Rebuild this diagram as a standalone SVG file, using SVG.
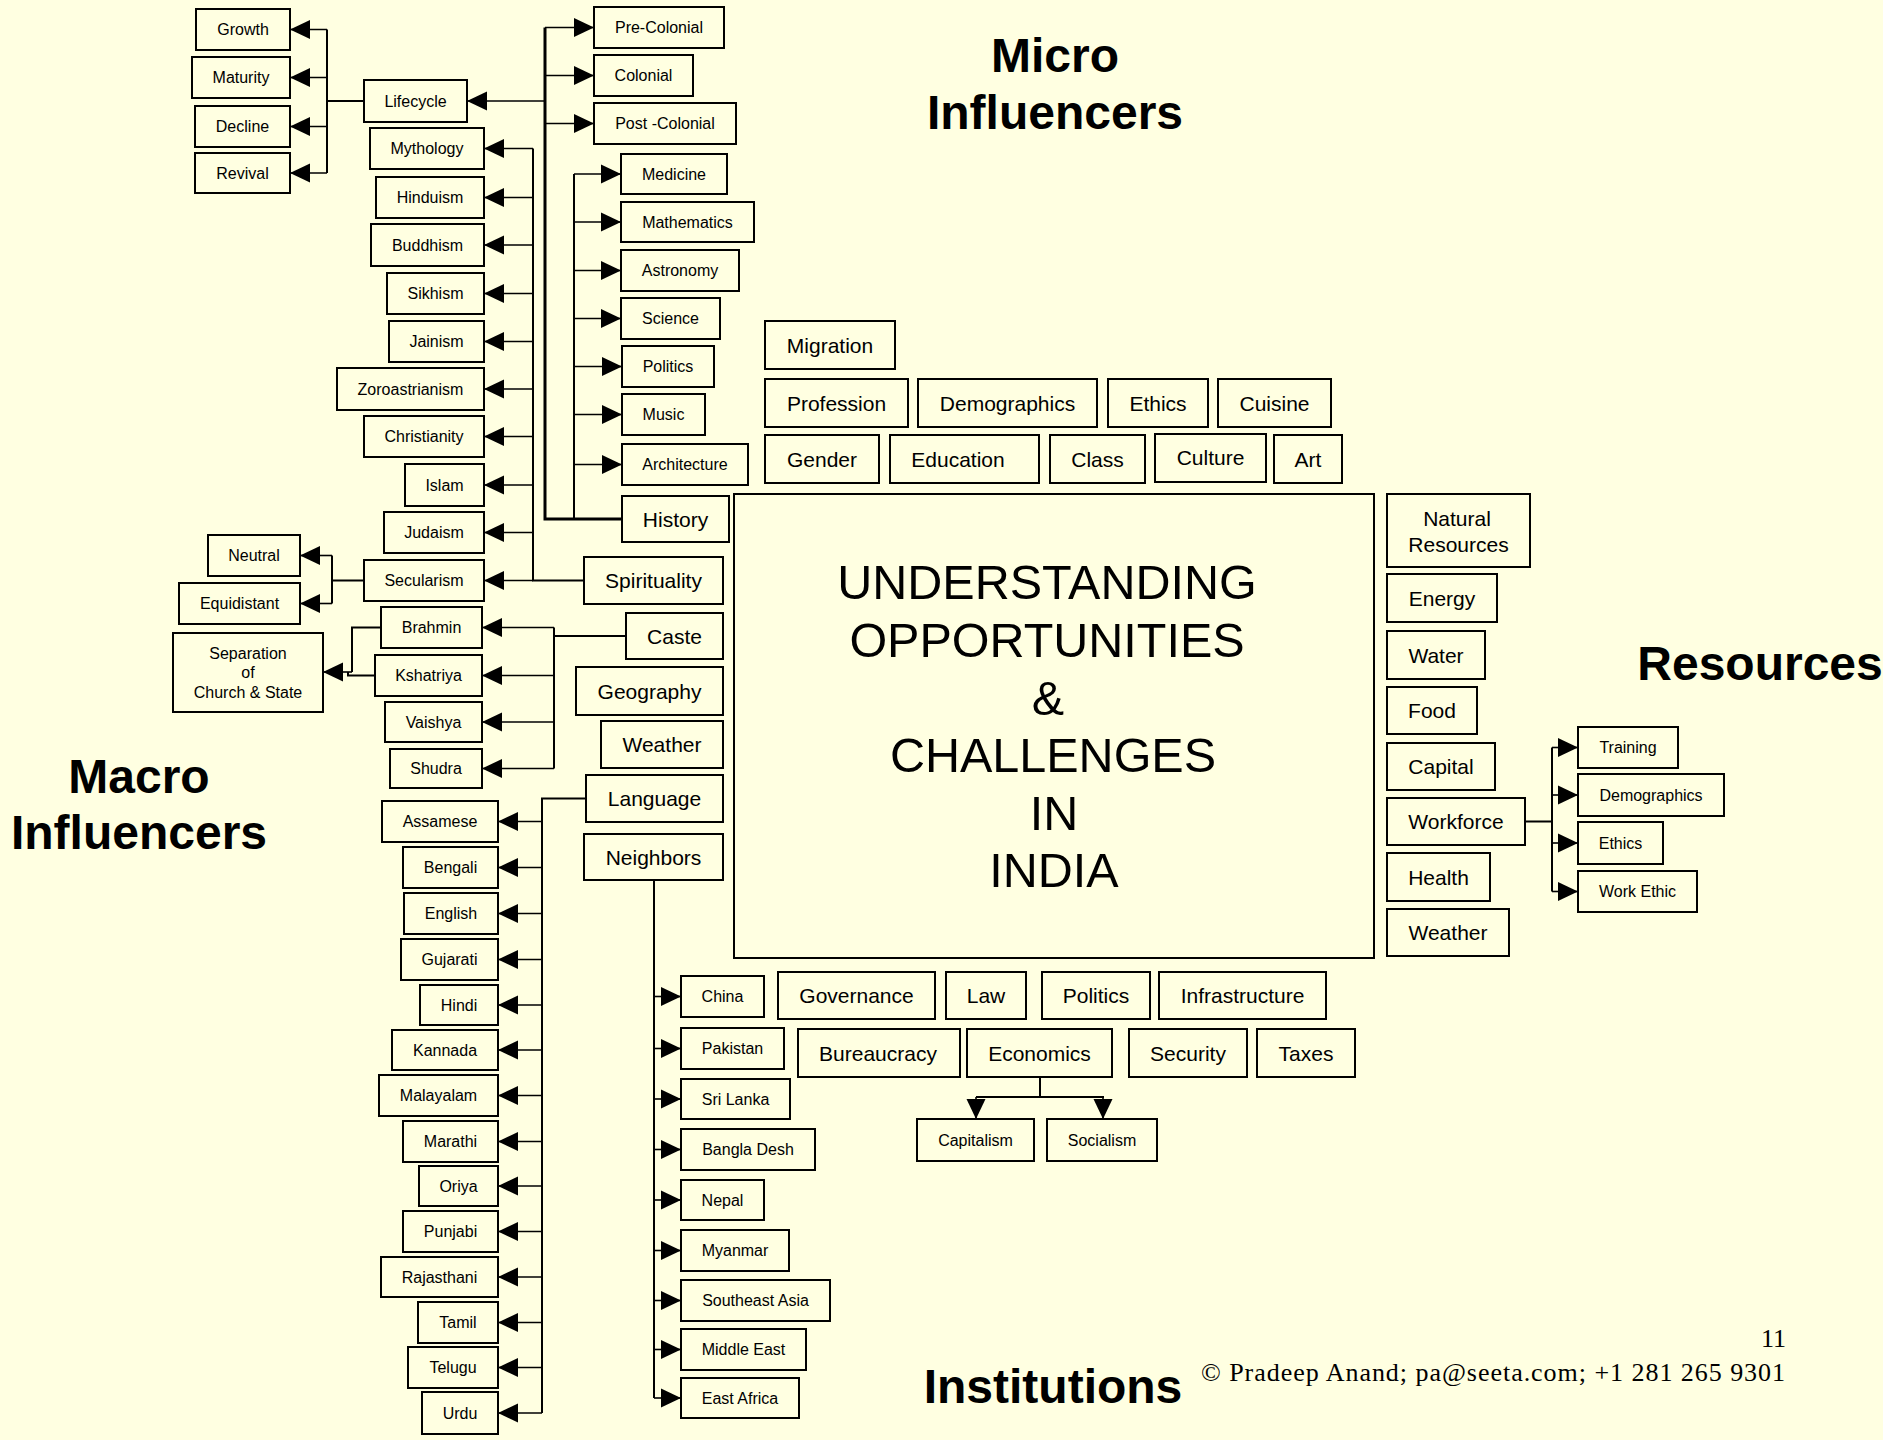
<svg xmlns="http://www.w3.org/2000/svg" width="1883" height="1440" viewBox="0 0 1883 1440">
<defs>
<style>
.b{fill:none;stroke:#000;stroke-width:2}
.s{font-family:"Liberation Sans",Arial,sans-serif;font-size:16px;text-anchor:middle;dominant-baseline:central;fill:#000}
.l{font-family:"Liberation Sans",Arial,sans-serif;font-size:21px;text-anchor:middle;dominant-baseline:central;fill:#000}
.t{font-family:"Liberation Sans",Arial,sans-serif;font-size:48px;font-weight:bold;text-anchor:middle;fill:#000}
.m{font-family:"Liberation Sans",Arial,sans-serif;font-size:48.5px;text-anchor:middle;fill:#000}
.f{font-family:"Liberation Serif","Times New Roman",serif;font-size:26px;fill:#000}
.c{fill:none;stroke:#000;stroke-width:2}
.a{fill:none;stroke:#000;stroke-width:1.6;marker-end:url(#ah)}
.hb{fill:none;stroke:#000;stroke-width:3}
</style>
<marker id="ah" markerWidth="20" markerHeight="20" refX="20" refY="10" orient="auto" markerUnits="userSpaceOnUse">
<path d="M0,0.5 L20,10 L0,19.5 Z" fill="#000"/>
</marker>
</defs>
<rect x="0" y="0" width="1883" height="1440" fill="#FFFFE1"/>

<g id="connectors">
<!-- Lifecycle -->
<path class="c" d="M364,101 H327 M327,29.5 V173"/>
<path class="a" d="M327,29.5 H290"/>
<path class="a" d="M327,77.5 H290"/>
<path class="a" d="M327,126.5 H290"/>
<path class="a" d="M327,173 H290"/>
<!-- History -->
<path class="hb" d="M545,27.5 V519 H622"/>
<path class="a" d="M545,27.5 H594"/>
<path class="a" d="M545,75.5 H594"/>
<path class="a" d="M545,123.5 H594"/>
<path class="a" d="M545,101 H467"/>
<path class="c" d="M574,174 V519"/>
<path class="a" d="M574,174 H621"/>
<path class="a" d="M574,222 H621"/>
<path class="a" d="M574,270.5 H621"/>
<path class="a" d="M574,318.5 H621"/>
<path class="a" d="M574,366.5 H622"/>
<path class="a" d="M574,414.5 H622"/>
<path class="a" d="M574,464.5 H622"/>
<!-- Spirituality -->
<path class="c" d="M533,148.5 V580.5 H584"/>
<path class="a" d="M533,148.5 H484"/>
<path class="a" d="M533,197.5 H484"/>
<path class="a" d="M533,245 H484"/>
<path class="a" d="M533,293.5 H484"/>
<path class="a" d="M533,341.5 H484"/>
<path class="a" d="M533,389 H484"/>
<path class="a" d="M533,436.5 H484"/>
<path class="a" d="M533,485 H484"/>
<path class="a" d="M533,532.5 H484"/>
<path class="a" d="M533,580.5 H484"/>
<!-- Secularism -->
<path class="c" d="M364,580.5 H332 M332,555.5 V603.5"/>
<path class="a" d="M332,555.5 H300"/>
<path class="a" d="M332,603.5 H300"/>
<!-- Separation -->
<path class="c" d="M381,627.5 H352 V672 M375,675.5 H348 V672"/>
<path class="a" d="M352,672 H323"/>
<!-- Caste -->
<path class="c" d="M626,636 H554 M554,627.5 V768.5"/>
<path class="a" d="M554,627.5 H482"/>
<path class="a" d="M554,675.5 H482"/>
<path class="a" d="M554,722 H482"/>
<path class="a" d="M554,768.5 H482"/>
<!-- Language -->
<path class="c" d="M586,798.5 H542 V1413"/>
<path class="a" d="M542,821.5 H498"/>
<path class="a" d="M542,867.5 H498"/>
<path class="a" d="M542,913.5 H498"/>
<path class="a" d="M542,959.5 H498"/>
<path class="a" d="M542,1005 H498"/>
<path class="a" d="M542,1050 H498"/>
<path class="a" d="M542,1095.5 H498"/>
<path class="a" d="M542,1141.5 H498"/>
<path class="a" d="M542,1186 H498"/>
<path class="a" d="M542,1231.5 H498"/>
<path class="a" d="M542,1277 H498"/>
<path class="a" d="M542,1322.5 H498"/>
<path class="a" d="M542,1367.5 H498"/>
<path class="a" d="M542,1413 H498"/>
<!-- Neighbors -->
<path class="c" d="M654,880 V1398"/>
<path class="a" d="M654,996.5 H681"/>
<path class="a" d="M654,1048.5 H681"/>
<path class="a" d="M654,1099 H681"/>
<path class="a" d="M654,1149.5 H681"/>
<path class="a" d="M654,1200 H681"/>
<path class="a" d="M654,1250.5 H681"/>
<path class="a" d="M654,1300.5 H681"/>
<path class="a" d="M654,1349.5 H681"/>
<path class="a" d="M654,1398 H681"/>
<!-- Workforce -->
<path class="c" d="M1525,821.5 H1552 M1552,747.5 V891.5"/>
<path class="a" d="M1552,747.5 H1578"/>
<path class="a" d="M1552,795 H1578"/>
<path class="a" d="M1552,843 H1578"/>
<path class="a" d="M1552,891.5 H1578"/>
<!-- Economics -->
<path class="c" d="M1040,1077 V1097 M976,1097 H1104"/>
<path class="a" d="M976,1097 V1119"/>
<path class="a" d="M1103,1097 V1119"/>
</g>

<g id="center">
<rect class="b" x="734" y="494" width="640" height="464"/>
<text class="m" x="1047" y="599">UNDERSTANDING</text>
<text class="m" x="1047" y="657">OPPORTUNITIES</text>
<text class="m" x="1048" y="715">&amp;</text>
<text class="m" x="1053" y="772">CHALLENGES</text>
<text class="m" x="1054" y="830">IN</text>
<text class="m" x="1054" y="887">INDIA</text>
</g>

<g id="n-growth"><rect class="b" x="196" y="9" width="94" height="41"/><text class="s" x="243" y="29.5">Growth</text></g>
<g id="n-maturity"><rect class="b" x="192" y="57" width="98" height="41"/><text class="s" x="241" y="77.5">Maturity</text></g>
<g id="n-decline"><rect class="b" x="195" y="106" width="95" height="41"/><text class="s" x="242.5" y="126.5">Decline</text></g>
<g id="n-revival"><rect class="b" x="195" y="153" width="95" height="40"/><text class="s" x="242.5" y="173">Revival</text></g>
<g id="n-lifecycle"><rect class="b" x="364" y="80" width="103" height="42"/><text class="s" x="415.5" y="101">Lifecycle</text></g>
<g id="n-mythology"><rect class="b" x="370" y="128" width="114" height="41"/><text class="s" x="427" y="148.5">Mythology</text></g>
<g id="n-hinduism"><rect class="b" x="376" y="177" width="108" height="41"/><text class="s" x="430" y="197.5">Hinduism</text></g>
<g id="n-buddhism"><rect class="b" x="371" y="224" width="113" height="42"/><text class="s" x="427.5" y="245">Buddhism</text></g>
<g id="n-sikhism"><rect class="b" x="387" y="273" width="97" height="41"/><text class="s" x="435.5" y="293.5">Sikhism</text></g>
<g id="n-jainism"><rect class="b" x="389" y="321" width="95" height="41"/><text class="s" x="436.5" y="341.5">Jainism</text></g>
<g id="n-zoroastrianism"><rect class="b" x="337" y="368" width="147" height="42"/><text class="s" x="410.5" y="389">Zoroastrianism</text></g>
<g id="n-christianity"><rect class="b" x="364" y="416" width="120" height="41"/><text class="s" x="424" y="436.5">Christianity</text></g>
<g id="n-islam"><rect class="b" x="405" y="464" width="79" height="42"/><text class="s" x="444.5" y="485">Islam</text></g>
<g id="n-judaism"><rect class="b" x="384" y="512" width="100" height="41"/><text class="s" x="434" y="532.5">Judaism</text></g>
<g id="n-secularism"><rect class="b" x="364" y="560" width="120" height="41"/><text class="s" x="424" y="580.5">Secularism</text></g>
<g id="n-neutral"><rect class="b" x="208" y="535" width="92" height="41"/><text class="s" x="254" y="555.5">Neutral</text></g>
<g id="n-equidistant"><rect class="b" x="179" y="583" width="121" height="41"/><text class="s" x="239.5" y="603.5">Equidistant</text></g>
<g id="n-separation"><rect class="b" x="173" y="633" width="150" height="79"/><text class="s" x="248" y="653">Separation</text><text class="s" x="248" y="672.5">of</text><text class="s" x="248" y="692">Church &amp; State</text></g>
<g id="n-brahmin"><rect class="b" x="381" y="607" width="101" height="41"/><text class="s" x="431.5" y="627.5">Brahmin</text></g>
<g id="n-kshatriya"><rect class="b" x="375" y="655" width="107" height="41"/><text class="s" x="428.5" y="675.5">Kshatriya</text></g>
<g id="n-vaishya"><rect class="b" x="385" y="702" width="97" height="40"/><text class="s" x="433.5" y="722">Vaishya</text></g>
<g id="n-shudra"><rect class="b" x="390" y="749" width="92" height="39"/><text class="s" x="436" y="768.5">Shudra</text></g>
<g id="n-precolonial"><rect class="b" x="594" y="7" width="130" height="41"/><text class="s" x="659" y="27.5">Pre-Colonial</text></g>
<g id="n-colonial"><rect class="b" x="594" y="55" width="99" height="41"/><text class="s" x="643.5" y="75.5">Colonial</text></g>
<g id="n-postcolonial"><rect class="b" x="594" y="103" width="142" height="41"/><text class="s" x="665" y="123.5">Post -Colonial</text></g>
<g id="n-medicine"><rect class="b" x="621" y="154" width="106" height="40"/><text class="s" x="674" y="174">Medicine</text></g>
<g id="n-mathematics"><rect class="b" x="621" y="202" width="133" height="40"/><text class="s" x="687.5" y="222">Mathematics</text></g>
<g id="n-astronomy"><rect class="b" x="621" y="250" width="118" height="41"/><text class="s" x="680" y="270.5">Astronomy</text></g>
<g id="n-science"><rect class="b" x="621" y="298" width="99" height="41"/><text class="s" x="670.5" y="318.5">Science</text></g>
<g id="n-politics-h"><rect class="b" x="622" y="346" width="92" height="41"/><text class="s" x="668" y="366.5">Politics</text></g>
<g id="n-music"><rect class="b" x="622" y="394" width="83" height="41"/><text class="s" x="663.5" y="414.5">Music</text></g>
<g id="n-architecture"><rect class="b" x="622" y="444" width="126" height="41"/><text class="s" x="685" y="464.5">Architecture</text></g>

<g id="n-assamese"><rect class="b" x="382" y="801" width="116" height="41"/><text class="s" x="440" y="821.5">Assamese</text></g>
<g id="n-bengali"><rect class="b" x="403" y="847" width="95" height="41"/><text class="s" x="450.5" y="867.5">Bengali</text></g>
<g id="n-english"><rect class="b" x="404" y="893" width="94" height="41"/><text class="s" x="451" y="913.5">English</text></g>
<g id="n-gujarati"><rect class="b" x="401" y="939" width="97" height="41"/><text class="s" x="449.5" y="959.5">Gujarati</text></g>
<g id="n-hindi"><rect class="b" x="420" y="985" width="78" height="40"/><text class="s" x="459" y="1005">Hindi</text></g>
<g id="n-kannada"><rect class="b" x="392" y="1030" width="106" height="40"/><text class="s" x="445" y="1050">Kannada</text></g>
<g id="n-malayalam"><rect class="b" x="379" y="1075" width="119" height="41"/><text class="s" x="438.5" y="1095.5">Malayalam</text></g>
<g id="n-marathi"><rect class="b" x="403" y="1121" width="95" height="41"/><text class="s" x="450.5" y="1141.5">Marathi</text></g>
<g id="n-oriya"><rect class="b" x="419" y="1166" width="79" height="40"/><text class="s" x="458.5" y="1186">Oriya</text></g>
<g id="n-punjabi"><rect class="b" x="403" y="1211" width="95" height="41"/><text class="s" x="450.5" y="1231.5">Punjabi</text></g>
<g id="n-rajasthani"><rect class="b" x="381" y="1257" width="117" height="40"/><text class="s" x="439.5" y="1277">Rajasthani</text></g>
<g id="n-tamil"><rect class="b" x="418" y="1302" width="80" height="41"/><text class="s" x="458" y="1322.5">Tamil</text></g>
<g id="n-telugu"><rect class="b" x="408" y="1347" width="90" height="41"/><text class="s" x="453" y="1367.5">Telugu</text></g>
<g id="n-urdu"><rect class="b" x="422" y="1392" width="76" height="42"/><text class="s" x="460" y="1413">Urdu</text></g>

<g id="n-china"><rect class="b" x="681" y="976" width="83" height="41"/><text class="s" x="722.5" y="996.5">China</text></g>
<g id="n-pakistan"><rect class="b" x="681" y="1028" width="103" height="41"/><text class="s" x="732.5" y="1048.5">Pakistan</text></g>
<g id="n-srilanka"><rect class="b" x="681" y="1079" width="109" height="40"/><text class="s" x="735.5" y="1099">Sri Lanka</text></g>
<g id="n-bangladesh"><rect class="b" x="681" y="1129" width="134" height="41"/><text class="s" x="748" y="1149.5">Bangla Desh</text></g>
<g id="n-nepal"><rect class="b" x="681" y="1180" width="83" height="40"/><text class="s" x="722.5" y="1200">Nepal</text></g>
<g id="n-myanmar"><rect class="b" x="681" y="1230" width="108" height="41"/><text class="s" x="735" y="1250.5">Myanmar</text></g>
<g id="n-seasia"><rect class="b" x="681" y="1280" width="149" height="41"/><text class="s" x="755.5" y="1300.5">Southeast Asia</text></g>
<g id="n-middleeast"><rect class="b" x="681" y="1329" width="125" height="41"/><text class="s" x="743.5" y="1349.5">Middle East</text></g>
<g id="n-eastafrica"><rect class="b" x="681" y="1378" width="118" height="40"/><text class="s" x="740" y="1398">East Africa</text></g>

<g id="n-training"><rect class="b" x="1578" y="727" width="100" height="41"/><text class="s" x="1628" y="747.5">Training</text></g>
<g id="n-demographics-w"><rect class="b" x="1578" y="774" width="146" height="42"/><text class="s" x="1651" y="795">Demographics</text></g>
<g id="n-ethics-w"><rect class="b" x="1578" y="822" width="85" height="42"/><text class="s" x="1620.5" y="843">Ethics</text></g>
<g id="n-workethic"><rect class="b" x="1578" y="871" width="119" height="41"/><text class="s" x="1637.5" y="891.5">Work Ethic</text></g>
<g id="n-capitalism"><rect class="b" x="917" y="1119" width="117" height="42"/><text class="s" x="975.5" y="1140">Capitalism</text></g>
<g id="n-socialism"><rect class="b" x="1047" y="1119" width="110" height="42"/><text class="s" x="1102" y="1140">Socialism</text></g>

<g id="n-history"><rect class="b" x="622" y="496" width="107" height="46"/><text class="l" x="675.5" y="519">History</text></g>
<g id="n-spirituality"><rect class="b" x="584" y="557" width="139" height="47"/><text class="l" x="653.5" y="580.5">Spirituality</text></g>
<g id="n-caste"><rect class="b" x="626" y="613" width="97" height="46"/><text class="l" x="674.5" y="636">Caste</text></g>
<g id="n-geography"><rect class="b" x="576" y="667" width="147" height="48"/><text class="l" x="649.5" y="691">Geography</text></g>
<g id="n-weather-l"><rect class="b" x="601" y="721" width="122" height="47"/><text class="l" x="662" y="744.5">Weather</text></g>
<g id="n-language"><rect class="b" x="586" y="775" width="137" height="47"/><text class="l" x="654.5" y="798.5">Language</text></g>
<g id="n-neighbors"><rect class="b" x="584" y="834" width="139" height="46"/><text class="l" x="653.5" y="857">Neighbors</text></g>

<g id="n-migration"><rect class="b" x="765" y="321" width="130" height="48"/><text class="l" x="830" y="345">Migration</text></g>
<g id="n-profession"><rect class="b" x="765" y="379" width="143" height="48"/><text class="l" x="836.5" y="403">Profession</text></g>
<g id="n-demographics"><rect class="b" x="918" y="379" width="179" height="48"/><text class="l" x="1007.5" y="403">Demographics</text></g>
<g id="n-ethics"><rect class="b" x="1108" y="379" width="100" height="48"/><text class="l" x="1158" y="403">Ethics</text></g>
<g id="n-cuisine"><rect class="b" x="1218" y="379" width="113" height="48"/><text class="l" x="1274.5" y="403">Cuisine</text></g>
<g id="n-gender"><rect class="b" x="765" y="435" width="114" height="48"/><text class="l" x="822" y="459">Gender</text></g>
<g id="n-education"><rect class="b" x="890" y="435" width="149" height="48"/><text class="l" x="958" y="459">Education</text></g>
<g id="n-class"><rect class="b" x="1050" y="435" width="95" height="48"/><text class="l" x="1097.5" y="459">Class</text></g>
<g id="n-culture"><rect class="b" x="1155" y="434" width="111" height="48"/><text class="l" x="1210.5" y="457.5">Culture</text></g>
<g id="n-art"><rect class="b" x="1274" y="435" width="68" height="48"/><text class="l" x="1308" y="459">Art</text></g>

<g id="n-natural"><rect class="b" x="1387" y="494" width="143" height="73"/><text class="l" x="1457" y="518">Natural</text><text class="l" x="1458.5" y="544">Resources</text></g>
<g id="n-energy"><rect class="b" x="1387" y="574" width="110" height="48"/><text class="l" x="1442" y="598">Energy</text></g>
<g id="n-water"><rect class="b" x="1387" y="631" width="98" height="48"/><text class="l" x="1436" y="655">Water</text></g>
<g id="n-food"><rect class="b" x="1387" y="687" width="90" height="47"/><text class="l" x="1432" y="710.5">Food</text></g>
<g id="n-capital"><rect class="b" x="1387" y="743" width="108" height="47"/><text class="l" x="1441" y="766.5">Capital</text></g>
<g id="n-workforce"><rect class="b" x="1387" y="798" width="138" height="47"/><text class="l" x="1456" y="821.5">Workforce</text></g>
<g id="n-health"><rect class="b" x="1387" y="853" width="103" height="48"/><text class="l" x="1438.5" y="877">Health</text></g>
<g id="n-weather-r"><rect class="b" x="1387" y="909" width="122" height="47"/><text class="l" x="1448" y="932.5">Weather</text></g>

<g id="n-governance"><rect class="b" x="778" y="972" width="157" height="47"/><text class="l" x="856.5" y="995.5">Governance</text></g>
<g id="n-law"><rect class="b" x="946" y="972" width="80" height="47"/><text class="l" x="986" y="995.5">Law</text></g>
<g id="n-politics"><rect class="b" x="1042" y="972" width="108" height="47"/><text class="l" x="1096" y="995.5">Politics</text></g>
<g id="n-infrastructure"><rect class="b" x="1159" y="972" width="167" height="47"/><text class="l" x="1242.5" y="995.5">Infrastructure</text></g>
<g id="n-bureaucracy"><rect class="b" x="798" y="1029" width="162" height="48"/><text class="l" x="878" y="1053">Bureaucracy</text></g>
<g id="n-economics"><rect class="b" x="967" y="1029" width="145" height="48"/><text class="l" x="1039.5" y="1053">Economics</text></g>
<g id="n-security"><rect class="b" x="1129" y="1029" width="118" height="48"/><text class="l" x="1188" y="1053">Security</text></g>
<g id="n-taxes"><rect class="b" x="1257" y="1029" width="98" height="48"/><text class="l" x="1306" y="1053">Taxes</text></g>

<g id="titles">
<text class="t" x="1055" y="72">Micro</text>
<text class="t" x="1055" y="129">Influencers</text>
<text class="t" x="139" y="793">Macro</text>
<text class="t" x="139" y="849">Influencers</text>
<text class="t" x="1760" y="680">Resources</text>
<text class="t" x="1053" y="1403">Institutions</text>
<text class="f" x="1786" y="1347" text-anchor="end">11</text>
<text class="f" x="1201" y="1381" textLength="584">© Pradeep Anand; pa@seeta.com; +1 281 265 9301</text>
</g>
</svg>
